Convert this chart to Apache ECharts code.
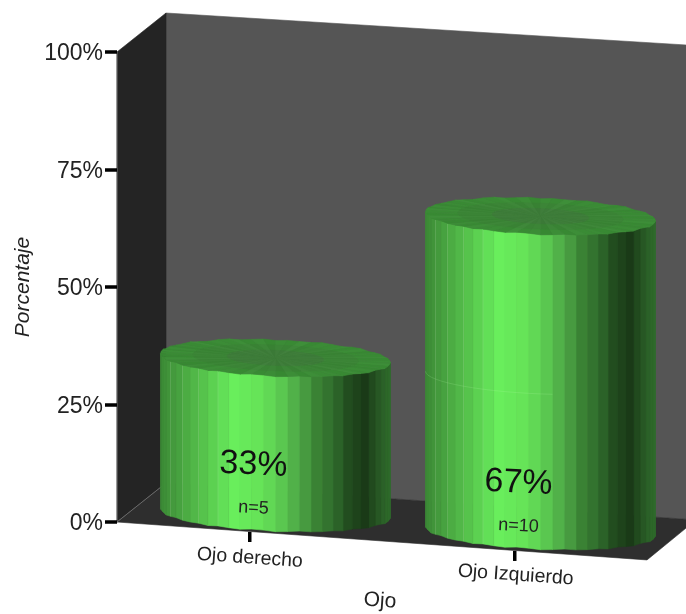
<!DOCTYPE html>
<html>
<head>
<meta charset="utf-8">
<style>html,body{margin:0;padding:0;background:#fff}#chart{width:686px;height:614px}</style>
<script src="https://cdn.jsdelivr.net/npm/echarts@6/dist/echarts.min.js"></script>
</head>
<body>
<div id="chart"></div>
<script>
// Percentage of cases per eye, drawn as cylinders standing in a 3D-looking room.
const categories = ['Ojo derecho', 'Ojo Izquierdo'];
const percentages = [33, 67];
const counts = [5, 10];
const yTicks = [0, 25, 50, 75, 100];

const FONT = '"Liberation Sans", Arial, sans-serif';

// Room depth as a screen vector, plus the slope of the floor's front edge.
const DEPTH = [49, -39];
const FRONT_SLOPE = 0.0716;
const BACK_SLOPE = 0.0697;
const TOP_SLOPE = 0.0615;

// Cylinder geometry in pixels.
const RX = 115, RY = 18, TILT = 0.04, FACET = 6;
// Small edge irregularity that gives the facets their hand-built look.
const EDGE_WOBBLE = [0.3, -0.5, 0.2, 0.7, -0.3, -0.6, 0.5, 0.1, -0.4, 0.6, -0.1, 0.3];
const CAP_SHADES = [0, 3, -2, 2, -3, 1, -1, 4, -2, 1];

// Side shading across the cylinder's visible width.
const SIDE_STOPS = [
  [0, [60, 138, 54]], [0.1, [74, 168, 66]], [0.2, [88, 200, 78]], [0.32, [105, 238, 92]],
  [0.42, [102, 228, 88]], [0.5, [95, 210, 84]], [0.61, [76, 163, 69]], [0.68, [58, 130, 52]],
  [0.76, [46, 105, 43]], [0.81, [34, 78, 32]], [0.89, [26, 58, 23]], [0.96, [42, 95, 39]], [1, [47, 109, 43]]
];

function sideColor(t) {
  for (let i = 1; i < SIDE_STOPS.length; i++) {
    if (t <= SIDE_STOPS[i][0]) {
      const [t0, c0] = SIDE_STOPS[i - 1], [t1, c1] = SIDE_STOPS[i];
      const f = (t - t0) / (t1 - t0);
      return 'rgb(' + c0.map((c, k) => Math.round(c + (c1[k] - c) * f)).join(',') + ')';
    }
  }
  return 'rgb(47,109,43)';
}

function poly(points, fill, stroke) {
  return {
    type: 'polygon', shape: { points: points },
    style: { fill: fill, stroke: stroke || fill, lineWidth: stroke ? 1 : 0.6 }, silent: true
  };
}

function renderRoom(params) {
  const g = params.coordSys;
  const x0 = g.x, x1 = g.x + g.width, yTop = g.y, yBase = g.y + g.height;
  const [dx, dy] = DEPTH;
  const bx0 = x0 + dx, bx1 = x1 + dx;
  const backBase0 = yBase + dy, backBase1 = backBase0 + (bx1 - bx0) * BACK_SLOPE;
  const backTop0 = yTop + dy, backTop1 = backTop0 + (bx1 - bx0) * TOP_SLOPE;
  const frontY = yBase + g.width * FRONT_SLOPE;
  return {
    type: 'group',
    children: [
      poly([[bx0, backTop0], [bx1, backTop1], [bx1, backBase1], [bx0, backBase0]], '#555555'),
      poly([[x0, yBase], [x0, yTop], [bx0, backTop0], [bx0, backBase0]], '#242424'),
      poly([[x0, yBase], [x1, frontY], [bx1, backBase1], [bx0, backBase0]], '#2e2e2e'),
      { type: 'line', shape: { x1: x0, y1: yBase, x2: bx0, y2: backBase0 },
        style: { stroke: '#6a6a6a', lineWidth: 1 }, silent: true },
      { type: 'line', shape: { x1: x0, y1: yTop, x2: x0, y2: yBase },
        style: { stroke: '#777777', lineWidth: 1 }, silent: true }
    ]
  };
}

function renderCylinder(params, api) {
  const index = api.value(0), value = api.value(1), n = api.value(2);
  const zero = api.coord([index, 0]), top = api.coord([index, value]);
  const g = params.coordSys;

  // The tick sits on the floor's front edge.
  const tickY = g.y + g.height + (zero[0] - g.x) * FRONT_SLOPE;

  // Cylinders stand half-way back on the floor, which slopes down to the right.
  const cx = zero[0] + 26;
  const baseY = zero[1] - 9 + (zero[0] - 249.5) * 0.068;
  const topY = baseY - (zero[1] - top[1]);

  const rim = (deg, cy, scale, noWobble) => {
    const a = deg * Math.PI / 180;
    const k = scale === undefined ? 1 : scale;
    const x = RX * k * Math.cos(a);
    const w = noWobble ? 0 : EDGE_WOBBLE[Math.round(deg / FACET) % EDGE_WOBBLE.length];
    return [cx + x, cy + RY * k * Math.sin(a) + TILT * x + w];
  };

  const children = [];
  // Thin tick mark below the floor.
  children.push({ type: 'rect', shape: { x: zero[0] - 1.5, y: tickY + 0.5, width: 3.5, height: 10 },
    style: { fill: '#000' }, silent: true });

  // Front facets; angles run clockwise on screen from the right-hand side, so t is mirrored.
  for (let d = 0; d < 180; d += FACET) {
    const t = (1 - Math.cos((d + FACET / 2) * Math.PI / 180)) / 2;
    const color = sideColor(1 - t);
    children.push(poly([rim(d, topY), rim(d + FACET, topY), rim(d + FACET, baseY), rim(d, baseY)], color));
  }

  // Pale seams between some of the lit facets.
  for (let d = 120; d <= 156; d += 2 * FACET) {
    const a = rim(d, topY), b = rim(d, baseY);
    children.push({ type: 'line', shape: { x1: a[0], y1: a[1], x2: b[0], y2: b[1] },
      style: { stroke: 'rgba(205,255,195,0.2)', lineWidth: 1 }, silent: true });
  }

  // Faint outline where the shorter column's level meets the taller one.
  percentages.filter(p => p < value).forEach(p => {
    const levelY = baseY - (zero[1] - api.coord([index, p])[1]);
    const pts = [];
    for (let d = 180; d >= 84; d -= FACET) pts.push(rim(d, levelY, 1, true));
    children.push({ type: 'polyline', shape: { points: pts },
      style: { stroke: 'rgba(190,255,180,0.16)', lineWidth: 1, fill: null }, silent: true });
  });

  // Top cap built from three rings of wedges, darker towards the hub.
  [[1, [58, 139, 53]], [0.72, [59, 132, 54]], [0.42, [62, 124, 58]]].forEach(([k, base]) => {
    for (let d = 0; d < 360; d += FACET) {
      const s = CAP_SHADES[Math.round(d / FACET) % CAP_SHADES.length];
      const c = 'rgb(' + (base[0] + s) + ',' + (base[1] + s) + ',' + (base[2] + s) + ')';
      children.push(poly([[cx, topY], rim(d, topY, k, k < 1), rim(d + FACET, topY, k, k < 1)], c));
    }
  });

  // Value and sample size printed on the front of the cylinder.
  children.push({ type: 'text', x: cx - 22, y: baseY - 48, rotation: -0.05,
    style: { text: value + '%', font: '34px ' + FONT, fill: '#111', align: 'center', verticalAlign: 'middle' }, silent: true });
  children.push({ type: 'text', x: cx - 22, y: baseY - 5, rotation: -0.05,
    style: { text: 'n=' + n, font: '18px ' + FONT, fill: '#222', align: 'center', verticalAlign: 'middle' }, silent: true });

  return { type: 'group', children: children };
}

const chart = echarts.init(document.getElementById('chart'), null, { renderer: 'canvas' });
chart.setOption({
  animation: false,
  backgroundColor: '#ffffff',
  textStyle: { fontFamily: FONT },
  grid: { left: 117, top: 52, width: 530, height: 470, containLabel: false, outerBoundsMode: 'none' },
  xAxis: {
    type: 'category',
    data: categories,
    axisLine: { show: false },
    axisTick: { show: false },
    name: 'Ojo',
    nameLocation: 'middle',
    nameGap: 79,
    nameMoveOverlap: false,
    nameRotate: -4,
    nameTextStyle: { fontSize: 21, color: '#222', fontFamily: FONT, align: 'center', verticalAlign: 'middle', padding: [0, 4, 0, 0] },
    axisLabel: {
      interval: 0,
      margin: 26,
      rotate: -4,
      align: 'center',
      verticalAlign: 'top',
      color: '#222',
      fontSize: 19.5,
      fontFamily: FONT,
      formatter: (name) => name === categories[0] ? '{a|' + name + '}' : '{b|' + name + '}',
      rich: {
        a: { fontSize: 19.5, color: '#222', padding: [0, 0, 0, 2] },
        b: { fontSize: 19.5, color: '#222', padding: [17, 0, 0, 6] }
      }
    },
    z: 5
  },
  yAxis: {
    type: 'value',
    min: yTicks[0],
    max: yTicks[yTicks.length - 1],
    interval: yTicks[1] - yTicks[0],
    splitLine: { show: false },
    axisLine: { show: false },
    axisTick: { show: true, length: 12, lineStyle: { color: '#000', width: 3.5 } },
    axisLabel: { margin: 14, color: '#222', fontSize: 23, fontFamily: FONT, formatter: '{v|{value}%}',
      rich: { v: { fontSize: 23, color: '#222', padding: [4, 0, 0, 0] } } },
    name: 'Porcentaje',
    nameLocation: 'middle',
    nameGap: 83,
    nameMoveOverlap: false,
    nameTextStyle: { fontSize: 21, fontStyle: 'italic', color: '#222', fontFamily: FONT },
    z: 5
  },
  series: [
    {
      type: 'custom',
      name: 'Sala',
      z: 1,
      silent: true,
      data: [[0, 0]],
      encode: { x: 0, y: 1 },
      renderItem: renderRoom
    },
    {
      type: 'custom',
      name: 'Porcentaje',
      z: 2,
      silent: true,
      data: percentages.map((p, i) => [i, p, counts[i]]),
      encode: { x: 0, y: 1 },
      renderItem: renderCylinder
    }
  ]
});
</script>
</body>
</html>
